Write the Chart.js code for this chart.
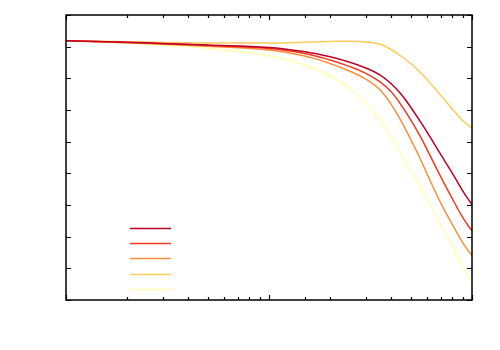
<!DOCTYPE html>
<html>
<head>
<meta charset="utf-8">
<script src="https://cdn.jsdelivr.net/npm/chart.js@4/dist/chart.umd.min.js"></script>
<style>
html,body{margin:0;padding:0;background:#fff;}
#wrap{width:500px;height:350px;}
</style>
</head>
<body>
<div id="wrap"><canvas id="c" width="500" height="350"></canvas></div>
<script>
// Frequency values (log axis)
const freq = [1, 2, 3, 5, 10, 15, 20, 25, 30, 35, 40, 45, 50, 55, 60, 70, 80, 90, 100];
// Series values
const s1 = [1.88, 1.38, 1.00, 0.53, -0.26, -1.62, -3.20, -4.91, -6.74, -8.85, -11.69, -15.20, -19.21, -23.16, -26.92, -33.96, -39.96, -45.52, -49.94];
const s2 = [1.88, 1.32, 0.91, 0.37, -0.58, -2.16, -4.21, -6.29, -8.41, -10.97, -14.25, -18.61, -23.22, -27.80, -32.41, -40.94, -48.01, -53.92, -58.18];
const s3 = [1.88, 1.25, 0.78, 0.12, -1.05, -2.98, -5.35, -7.75, -10.27, -13.46, -18.20, -23.73, -29.38, -34.75, -40.08, -49.24, -56.16, -61.87, -66.01];
const s4 = [1.88, 1.54, 1.35, 1.19, 1.19, 1.41, 1.66, 1.73, 1.47, 0.84, -0.89, -3.11, -5.38, -7.84, -10.37, -15.26, -19.68, -23.32, -25.68];
const s5 = [1.88, 1.16, 0.46, -0.48, -2.85, -5.79, -9.26, -13.05, -17.79, -22.84, -28.53, -34.21, -39.26, -43.68, -48.11, -56.00, -62.95, -69.42, -74.54];
const seriesNames = ["", "", "", "", ""];
const colors = ["#bd0026", "#f03b20", "#fd8d3c", "#fecc5c", "#ffffb2"];
const yMin = -80, yMax = 10, yStep = 10;
const xMin = 1, xMax = 100;

const allSeries = [s1, s2, s3, s4, s5];
const datasets = allSeries.map((s, i) => ({
  label: seriesNames[i],
  data: freq.map((f, j) => ({x: f, y: s[j]})),
  borderColor: colors[i],
  backgroundColor: colors[i],
  borderWidth: 1.5,
  pointRadius: 0,
  tension: 0.4,
  fill: false
}));

const tickPlugin = {
  id: 'inwardTicks',
  afterDatasetsDraw(chart) {
    const ctx = chart.ctx;
    const a = chart.chartArea;
    const xs = chart.scales.x, ys = chart.scales.y;
    ctx.save();
    ctx.strokeStyle = '#000';
    ctx.lineWidth = 1.2;
    ctx.beginPath();
    xs.ticks.forEach(t => {
      const px = Math.round(xs.getPixelForValue(t.value)) + 0.5;
      const lg = Math.log10(t.value);
      const len = Math.abs(lg - Math.round(lg)) < 1e-9 ? 5 : 3;
      ctx.moveTo(px, a.bottom); ctx.lineTo(px, a.bottom - len);
      ctx.moveTo(px, a.top); ctx.lineTo(px, a.top + len);
    });
    ys.ticks.forEach(t => {
      const py = Math.round(ys.getPixelForValue(t.value)) + 0.5;
      ctx.moveTo(a.left, py); ctx.lineTo(a.left + 5, py);
      ctx.moveTo(a.right, py); ctx.lineTo(a.right - 5, py);
    });
    ctx.stroke();
    ctx.restore();
  },
  afterDraw(chart) {
    // legend keys (no text), placed inside the plot area lower-left
    const ctx = chart.ctx;
    const a = chart.chartArea;
    const x0 = a.left + 64, x1 = a.left + 105;
    const yStart = a.top + 213, gap = 15.2;
    ctx.save();
    chart.data.datasets.forEach((d, i) => {
      const y = Math.round(yStart + i * gap) + 0.5;
      ctx.strokeStyle = d.borderColor;
      ctx.lineWidth = 1.5;
      ctx.beginPath();
      ctx.moveTo(x0, y); ctx.lineTo(x1, y);
      ctx.stroke();
    });
    // frame
    ctx.strokeStyle = '#000';
    ctx.lineWidth = 1.5;
    ctx.strokeRect(a.left, a.top, a.right - a.left, a.bottom - a.top);
    ctx.restore();
  }
};

new Chart(document.getElementById('c'), {
  type: 'line',
  data: { datasets },
  options: {
    responsive: false,
    animation: false,
    layout: { padding: { left: 66, right: 28, top: 15, bottom: 50 } },
    plugins: { legend: { display: false }, tooltip: { enabled: false } },
    scales: {
      x: {
        type: 'logarithmic', min: xMin, max: xMax,
        grid: { display: false, drawTicks: false },
        border: { display: false },
        ticks: { display: false }
      },
      y: {
        type: 'linear', min: yMin, max: yMax,
        grid: { display: false, drawTicks: false },
        border: { display: false },
        ticks: { display: false, stepSize: yStep }
      }
    }
  },
  plugins: [tickPlugin]
});
</script>
</body>
</html>
